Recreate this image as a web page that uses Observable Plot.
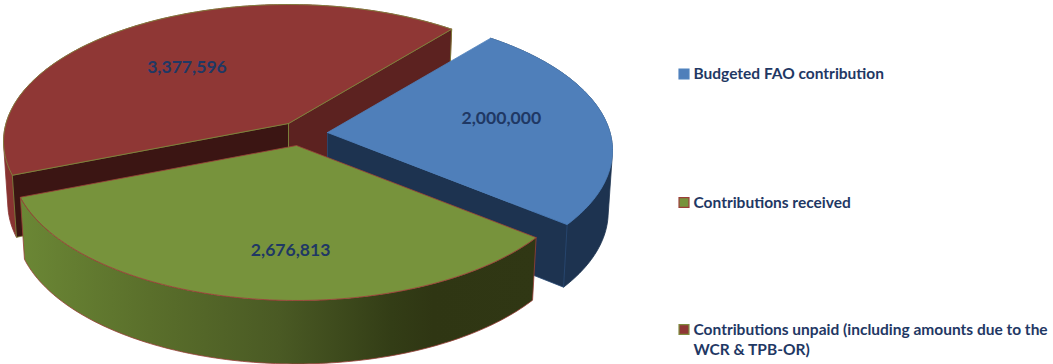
<!DOCTYPE html>
<html>
<head>
<meta charset="utf-8">
<script src="https://cdn.jsdelivr.net/npm/d3@7"></script>
<script src="https://cdn.jsdelivr.net/npm/@observablehq/plot@0.6"></script>
<style>
  html, body { margin: 0; padding: 0; background: #fff; }
  svg { display: block; }
</style>
</head>
<body>
<div id="chart"></div>
<script>
// Contribution figures
const categories = ["Budgeted FAO contribution", "Contributions received", "Contributions unpaid"];
const values = [2000000, 2676813, 3377596];
const legendLabels = [
  "Budgeted FAO contribution",
  "Contributions received",
  "Contributions unpaid (including amounts due to the\nWCR & TPB-OR)"
];

// Slice styling
const topColors = ["#4f7fba", "#77933c", "#8f3735"];
const edgeColors = ["#4f81bd", "#9b3f38", "#7f8a3e"];
const textColor = "#1f3864";
const font = "Lato, Carlito, sans-serif";

const W = 1053, H = 364;

// Perspective disc: a unit circle on the ground plane seen from the front.
// The lower rim is the upper rim narrowed a little and pushed down.
const persp = {k: 0.1314, A: 282.5, B: 134.6, wallDrop: 61.3, wallX: 0.985, wallY: 1.014};
// Where each exploded slice's apex lands
const apexes = [[327, 132], [296, 145], [288, 123]];

const pie = d3.pie().sort(null)
  .startAngle(39.5 * Math.PI / 180)
  .endAngle((39.5 + 360) * Math.PI / 180);
const arcs = pie(values);

function project(angle, r, apex, lower) {
  const u = r * Math.sin(angle), v = -r * Math.cos(angle);
  const w = 1 - persp.k * v;
  let X = persp.A * u / w, Y = persp.B * v / w;
  if (lower) { X *= persp.wallX; Y = Y * persp.wallY + persp.wallDrop; }
  return {x: apex[0] + X, y: apex[1] + Y};
}
function rim(a0, a1, apex, lower) {
  const n = Math.ceil(Math.abs(a1 - a0) / (Math.PI / 180));
  return d3.range(n + 1).map(i => project(a0 + (a1 - a0) * i / n, 1, apex, lower));
}
const closed = pts => [...pts, pts[0]];
const topFace = (a, apex) => closed([project(0, 0, apex, false), ...rim(a.startAngle, a.endAngle, apex, false)]);
const outerWall = (a0, a1, apex) => closed([...rim(a0, a1, apex, false), ...rim(a1, a0, apex, true)]);
const sideFace = (angle, apex) => closed([
  project(0, 0, apex, false), project(angle, 1, apex, false),
  project(angle, 1, apex, true), project(0, 0, apex, true)
]);
// Outline of a wall that wraps past the rim's extremes: its silhouette drops straight between the rims
function wallHull(a0, a1, apex) {
  const pts = [...rim(a0, a1, apex, false), ...rim(a0, a1, apex, true)].map(p => [p.x, p.y]);
  return closed(d3.polygonHull(pts).map(([x, y]) => ({x, y})));
}

const poly = (pts, fill, stroke) =>
  Plot.line(pts, {x: "x", y: "y", fill, stroke, strokeWidth: 0.8, curve: "linear", strokeLinejoin: "round"});

// Horizontal shading along the front wall of the received slice
function wallGradient() {
  const defs = d3.create("svg:defs");
  const g = defs.append("linearGradient").attr("id", "greenWall").attr("x1", 0).attr("x2", 1).attr("y1", 0).attr("y2", 0);
  [[0, "#6b8735"], [0.25, "#5a6f2b"], [0.5, "#4a5a24"], [0.72, "#333d16"], [0.8, "#2f3613"], [1, "#303714"]]
    .forEach(([o, c]) => g.append("stop").attr("offset", o).attr("stop-color", c));
  return defs.node();
}

const [blue, green, red] = arcs;
const [blueApex, greenApex, redApex] = apexes;

// Value labels sit on each slice's mid-angle, nudged off it per slice
const labelAt = (a, apex) => project((a.startAngle + a.endAngle) / 2, 0.62, apex, false);
const labelOffsets = [[1, -6], [23, 15], [-5, 7]];
const valueLabels = arcs.map((a, i) => Plot.text([{...labelAt(a, apexes[i]), label: d3.format(",")(values[i])}], {
  x: "x", y: "y", text: "label", fill: textColor,
  fontFamily: font, fontWeight: 700, fontSize: 17.6,
  dx: labelOffsets[i][0], dy: labelOffsets[i][1]
}));

// Legend column on the right
const legendRows = legendLabels.map((label, i) => ({
  label, fill: topColors[i], stroke: edgeColors[i],
  x: 683.5, y: [73.5, 202, 329][i]
}));

const chart = Plot.plot({
  width: W, height: H, margin: 0,
  x: {axis: null, domain: [0, W]},
  y: {axis: null, domain: [H, 0]},
  marks: [
    wallGradient,
    // back slice
    poly(wallHull(red.startAngle, red.endAngle, redApex), "#883331", "#883331"),
    poly(sideFace(red.startAngle, redApex), "#3b1513", edgeColors[2]),
    poly(sideFace(red.endAngle, redApex), "#5c2220", edgeColors[2]),
    poly(topFace(red, redApex), topColors[2], edgeColors[2]),
    // right slice
    poly(wallHull(blue.startAngle, blue.endAngle, blueApex), "#1d3350", "#1d3350"),
    poly(sideFace(blue.endAngle, blueApex), "#1d3350", "#2a4a75"),
    poly(topFace(blue, blueApex), topColors[0], edgeColors[0]),
    // front slice
    poly(outerWall(green.startAngle, green.endAngle, greenApex), "url(#greenWall)", edgeColors[1]),
    poly(topFace(green, greenApex), topColors[1], edgeColors[1]),
    ...valueLabels,
    // legend
    Plot.dot(legendRows, {
      x: "x", y: "y", symbol: "square", r: 5.6,
      fill: "fill", stroke: "stroke", strokeWidth: 1.2
    }),
    Plot.text(legendRows, {
      x: 693, y: d => d.y - 8.9, text: "label", textAnchor: "start", lineAnchor: "top", lineHeight: 1.3,
      fill: textColor, fontFamily: font, fontWeight: 700, fontSize: 15.5
    })
  ]
});
document.getElementById("chart").append(chart);
</script>
</body>
</html>
